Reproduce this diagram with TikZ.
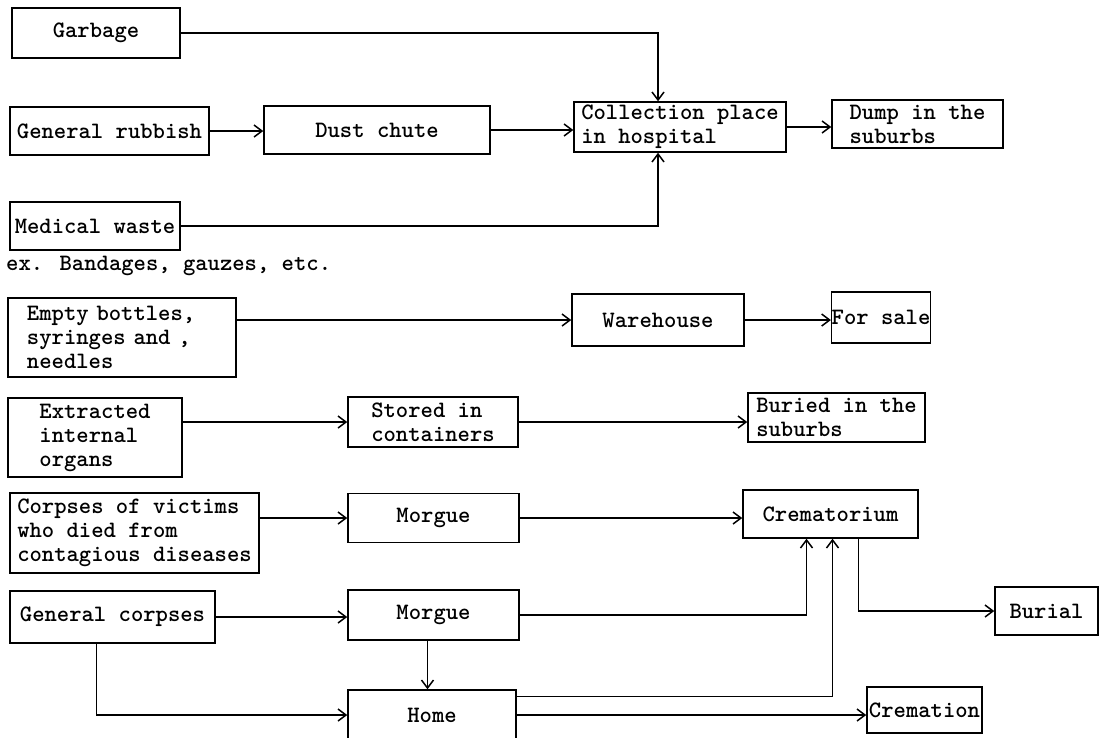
\documentclass[tikz,border=0pt]{standalone}
\usetikzlibrary{arrows.meta}
\tikzset{
  wastefont/.style={font=\fontsize{23.5}{24}\selectfont\ttfamily\bfseries},
  box/.style={draw,line width=1.5pt,inner sep=0pt,align=left,wastefont},
  flow/.style={line width=1.5pt,-{Straight Barb[length=8pt,width=12pt]}}
}
\begin{document}
\begin{tikzpicture}[x=1pt,y=-1pt]
  \useasboundingbox (0,0) rectangle (1102,737);
  % hospital refuse
  \node[box,minimum width=168pt,minimum height=50pt] (garbage) at (96,33) {Garbage};
  \node[box,minimum width=199pt,minimum height=48pt] (rubbish) at (109.5,131) {General rubbish};
  \node[box,minimum width=226pt,minimum height=48pt] (chute) at (377,130) {Dust chute};
  \node[box,minimum width=212pt,minimum height=50pt] (collect) at (680,127) {Collection place\\in hospital};
  \node[box,minimum width=171pt,minimum height=48pt] (dump) at (917.5,124) {Dump in the\\suburbs};
  \node[box,minimum width=170pt,minimum height=48pt] (medical) at (95,226) {Medical waste};
  \node[wastefont,inner sep=0pt,anchor=west] (bandages) at (6,266) {ex. Bandages, gauzes, etc.};
  \node[box,minimum width=228pt,minimum height=79pt,text width=190pt] (bottles) at (122,337.5) {Empty bottles,\\syringes and ,\\needles};
  \node[box,minimum width=172pt,minimum height=52pt] (warehouse) at (658,320) {Warehouse};
  \node[box,minimum width=98pt,minimum height=51pt] (sale) at (881,317.5) {For sale};
  \node[box,minimum width=174pt,minimum height=79pt] (organs) at (95,437.5) {Extracted\\internal\\organs};
  \node[box,minimum width=170pt,minimum height=50pt] (stored) at (433,422) {Stored in\\containers};
  \node[box,minimum width=177pt,minimum height=49pt] (buried) at (836.5,417.5) {Buried in the\\suburbs};
  % corpses
  \node[box,minimum width=249pt,minimum height=80pt] (corpses) at (134.5,533) {Corpses of victims\\who died from\\contagious diseases};
  \node[box,minimum width=171pt,minimum height=49pt] (morgueA) at (433.5,518) {Morgue};
  \node[box,minimum width=175pt,minimum height=48pt] (cremat) at (830.5,514) {Crematorium};
  \node[box,minimum width=205pt,minimum height=52pt] (general) at (112.5,617) {General corpses};
  \node[box,minimum width=171pt,minimum height=50pt] (morgueB) at (433.5,615) {Morgue};
  \node[box,minimum width=103pt,minimum height=48pt] (burial) at (1046.5,611) {Burial};
  \node[box,minimum width=168pt,minimum height=50pt] (home) at (432,715) {Home};
  \node[box,minimum width=115pt,minimum height=46pt] (cremation) at (924.5,710) {Cremation};

  \draw[flow] (garbage.east) -| ([xshift=-22pt]collect.north);
  \draw[flow] (rubbish.east) -- (rubbish.east -| chute.west);
  \draw[flow] (chute.east) -- (chute.east -| collect.west);
  \draw[flow] (medical.east) -| ([xshift=-22pt]collect.south);
  \draw[flow] (collect.east) -- (collect.east -| dump.west);
  \draw[flow] (bottles.east |- warehouse.west) -- (warehouse.west);
  \draw[flow] (warehouse.east) -- (warehouse.east -| sale.west);
  \draw[flow] (organs.east |- stored.west) -- (stored.west);
  \draw[flow] (stored.east) -- (stored.east -| buried.west);
  \draw[flow] (corpses.east |- morgueA.west) -- (morgueA.west);
  \draw[flow] (morgueA.east) -- (morgueA.east -| cremat.west);
  \draw[flow] (general.east) -- (general.east -| morgueB.west);
  \draw[flow] (morgueB.east) -| ([xshift=-24pt]cremat.south);
  \draw[flow] ([xshift=-6pt]morgueB.south) -- ([xshift=-6pt]morgueB.south |- home.north);
  \draw[flow] ([xshift=-16pt]general.south) |- (home.west);
  \draw[flow] ([yshift=-7pt]home.north east) -| ([xshift=2pt]cremat.south);
  \draw[flow] (home.east) -- (home.east -| cremation.west);
  \draw[flow] ([xshift=28pt]cremat.south) |- (burial.west);
\end{tikzpicture}
\end{document}
